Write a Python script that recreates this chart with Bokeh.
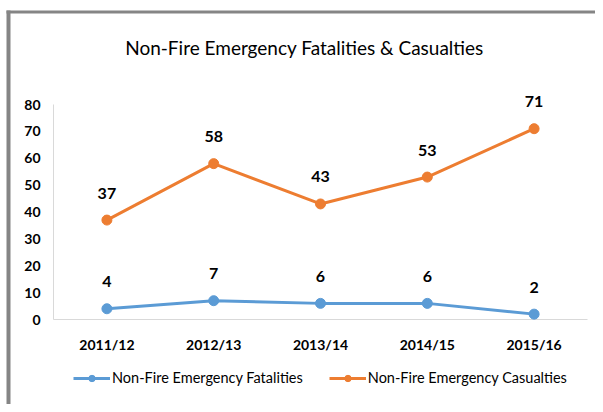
from bokeh.plotting import figure
from bokeh.models import Range1d, Legend, LegendItem, Label, ColumnDataSource
from bokeh.core.properties import value
from bokeh.embed import file_html
from bokeh.resources import INLINE

# ---- data ----
years = ["2011/12", "2012/13", "2013/14", "2014/15", "2015/16"]
fatalities = [4, 7, 6, 6, 2]
casualties = [37, 58, 43, 53, 71]
y_ticks = [0, 10, 20, 30, 40, 50, 60, 70, 80]
series_names = ["Non-Fire Emergency Fatalities", "Non-Fire Emergency Casualties"]
chart_title = "Non-Fire Emergency Fatalities & Casualties"

BLUE = "#5B9BD5"
ORANGE = "#ED7D31"
AXIS = "#D9D9D9"
FONT = "Lato"

# ---- layout (pixels) ----
W, H = 595, 404
PLOT_L, PLOT_R = 53.0, 587.0      # category band extent
PLOT_T, PLOT_B = 104.0, 319.0     # y = 80 .. y = 0
n = len(years)
ymax = y_ticks[-1]
xs = list(range(n))
sx_unit = (PLOT_R - PLOT_L) / n
sy_unit = (PLOT_B - PLOT_T) / ymax
x0_px = PLOT_L + sx_unit / 2


def px2x(px):
    return (px - x0_px) / sx_unit


def py2y(py):
    return (PLOT_B - py) / sy_unit


p = figure(width=W, height=H,
           x_range=Range1d(px2x(0), px2x(W)),
           y_range=Range1d(py2y(H), py2y(0)),
           x_axis_location=None, y_axis_location=None,
           output_backend="svg", toolbar_location=None,
           min_border=0, min_border_left=0, min_border_right=0,
           min_border_top=0, min_border_bottom=0)
p.outline_line_color = None
p.grid.visible = False
p.background_fill_color = "white"
p.border_fill_color = "white"

# outer chart-area border (left and top edges)
p.segment(x0=[px2x(8), px2x(6)], y0=[py2y(10), py2y(11.5)],
          x1=[px2x(8), px2x(W)], y1=[py2y(H), py2y(11.5)],
          line_color="#858585", line_width=[4, 3])

# axis lines
left_edge = -0.5
right_edge = n - 0.5
p.segment(x0=[left_edge, left_edge], y0=[0, 0], x1=[left_edge, right_edge], y1=[ymax, 0],
          line_color=AXIS, line_width=1)

# y tick labels
p.text(x=[left_edge] * len(y_ticks), y=y_ticks, text=[str(t) for t in y_ticks],
       x_offset=-13, text_align="right", text_baseline="middle",
       text_font=value(FONT), text_font_style="bold", text_font_size="14px",
       text_color="#000000")

# x tick labels
p.text(x=xs, y=[0] * n, text=years, y_offset=25, text_align="center",
       text_baseline="middle", text_font=value(FONT), text_font_style="bold",
       text_font_size="14px", text_color="#000000")

src_f = ColumnDataSource(dict(x=xs, y=fatalities, t=[str(v) for v in fatalities]))
src_c = ColumnDataSource(dict(x=xs, y=casualties, t=[str(v) for v in casualties]))

lf = p.line("x", "y", source=src_f, line_color=BLUE, line_width=3)
cf = p.scatter("x", "y", source=src_f, size=10, fill_color=BLUE, line_color=BLUE)
lc = p.line("x", "y", source=src_c, line_color=ORANGE, line_width=3)
cc = p.scatter("x", "y", source=src_c, size=10, fill_color=ORANGE, line_color=ORANGE)

for src in (src_f, src_c):
    p.text("x", "y", text="t", source=src, text_align="center", text_baseline="middle",
           y_offset=-27, text_font=value(FONT), text_font_style="bold",
           text_font_size="16px", text_color="#000000")

# title
p.add_layout(Label(x=px2x(304), y=py2y(47), text=chart_title, text_align="center",
                   text_baseline="middle", text_font=FONT, text_font_size="19px",
                   text_color="#000000"))

legend = Legend(items=[LegendItem(label=series_names[0], renderers=[lf, cf]),
                       LegendItem(label=series_names[1], renderers=[lc, cc])],
                orientation="horizontal", location=(73, 18),
                glyph_width=37, glyph_height=16, label_height=16,
                label_standoff=2, spacing=26, padding=0, margin=0,
                label_text_font=FONT, label_text_font_size="14.5px",
                label_text_color="#000000",
                border_line_color=None, background_fill_alpha=0)
p.add_layout(legend)

open("out.html", "w").write(file_html(p, INLINE))
